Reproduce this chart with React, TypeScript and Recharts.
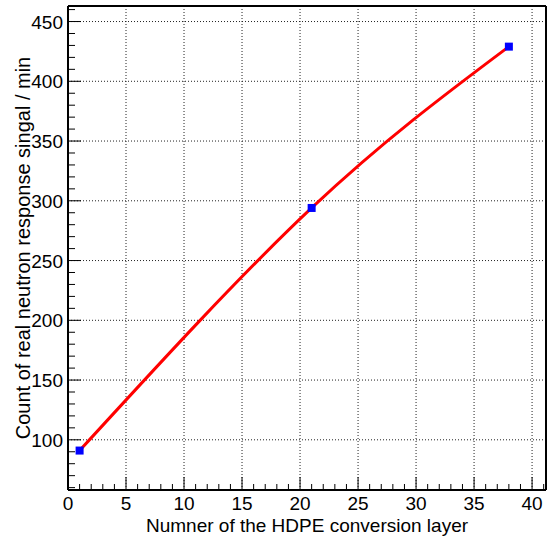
import { LineChart, Line, XAxis, YAxis, ReferenceLine } from 'recharts'

const layers = [1, 21, 38]
const counts = [91, 294, 429]

const xMajor = [0, 5, 10, 15, 20, 25, 30, 35, 40]
const xMinor = [1, 2, 3, 4, 6, 7, 8, 9, 11, 12, 13, 14, 16, 17, 18, 19, 21, 22, 23, 24, 26, 27, 28, 29, 31, 32, 33, 34, 36, 37, 38, 39, 41]
const yMajor = [100, 150, 200, 250, 300, 350, 400, 450]
const yMinor = [60, 70, 80, 90, 110, 120, 130, 140, 160, 170, 180, 190, 210, 220, 230, 240, 260, 270, 280, 290, 310, 320, 330, 340, 360, 370, 380, 390, 410, 420, 430, 440, 460]

const xTitle = 'Numner of the HDPE conversion layer'
const yTitle = 'Count of real neutron response singal / min'

const data = layers.map((x, i) => ({ x, y: counts[i] }))

const FONT = '"Liberation Sans", Arial, Helvetica, sans-serif'
const X_MAX = 41.2
const Y_MIN = 58
const Y_MAX = 463

function XTick(props: any) {
  const { x, y, payload } = props
  const major = xMajor.includes(payload.value)
  return (
    <g>
      <line x1={x} x2={x} y1={y} y2={y - (major ? 13 : 6)} stroke="#000" strokeWidth={1} />
      {major && (
        <text x={x} y={y + 20} textAnchor="middle" fontSize={19} fontFamily={FONT} fill="#000">
          {payload.value}
        </text>
      )}
    </g>
  )
}

function YTick(props: any) {
  const { x, y, payload } = props
  const major = yMajor.includes(payload.value)
  return (
    <g>
      <line x1={x} x2={x + (major ? 13 : 7)} y1={y} y2={y} stroke="#000" strokeWidth={1} />
      {major && (
        <text x={x - 5} y={y + 7} textAnchor="end" fontSize={19} fontFamily={FONT} fill="#000">
          {payload.value}
        </text>
      )}
    </g>
  )
}

function Square(props: any) {
  const { cx, cy } = props
  return <rect x={cx - 4} y={cy - 4} width={8} height={8} fill="#0000ff" />
}

export default function App() {
  return (
    <div style={{ position: 'absolute', left: 0, top: 0, background: '#fff' }}>
      <LineChart width={547} height={541} data={data} margin={{ top: 6, right: 1, left: 0, bottom: 0 }}>
        <XAxis
          dataKey="x"
          type="number"
          domain={[0, X_MAX]}
          ticks={[...xMajor, ...xMinor]}
          interval={0}
          height={51}
          tickSize={0}
          tickMargin={0}
          tickLine={false}
          tick={<XTick />}
          axisLine={{ stroke: '#000', strokeWidth: 2 }}
          allowDataOverflow
          label={{
            content: ({ viewBox }: any) => (
              <text
                x={viewBox.x + viewBox.width / 2}
                y={viewBox.y + 42}
                textAnchor="middle"
                fontSize={19}
                fontFamily={FONT}
                fill="#000"
              >
                {xTitle}
              </text>
            ),
          }}
        />
        <YAxis
          type="number"
          domain={[Y_MIN, Y_MAX]}
          ticks={[...yMajor, ...yMinor]}
          interval={0}
          width={68}
          tickSize={0}
          tickMargin={0}
          tickLine={false}
          tick={<YTick />}
          axisLine={{ stroke: '#000', strokeWidth: 2 }}
          allowDataOverflow
          label={{
            content: ({ viewBox }: any) => {
              const cx = 30
              const cy = viewBox.y + viewBox.height / 2
              return (
                <text
                  x={cx}
                  y={cy}
                  transform={`rotate(-90 ${cx} ${cy})`}
                  textAnchor="middle"
                  fontSize={20}
                  fontFamily={FONT}
                  fill="#000"
                >
                  {yTitle}
                </text>
              )
            },
          }}
        />
        {xMajor.slice(1).map((v) => (
          <ReferenceLine key={'gx' + v} x={v} stroke="#222" strokeDasharray="1 2" strokeWidth={1} />
        ))}
        {yMajor.map((v) => (
          <ReferenceLine key={'gy' + v} y={v} stroke="#222" strokeDasharray="1 2" strokeWidth={1} />
        ))}
        <ReferenceLine y={Y_MAX} stroke="#000" strokeWidth={2} />
        <ReferenceLine x={X_MAX} stroke="#000" strokeWidth={2} />
        <Line
          dataKey="y"
          type="natural"
          stroke="#ff0000"
          strokeWidth={3}
          dot={<Square />}
          activeDot={false}
          isAnimationActive={false}
        />
      </LineChart>
    </div>
  )
}
